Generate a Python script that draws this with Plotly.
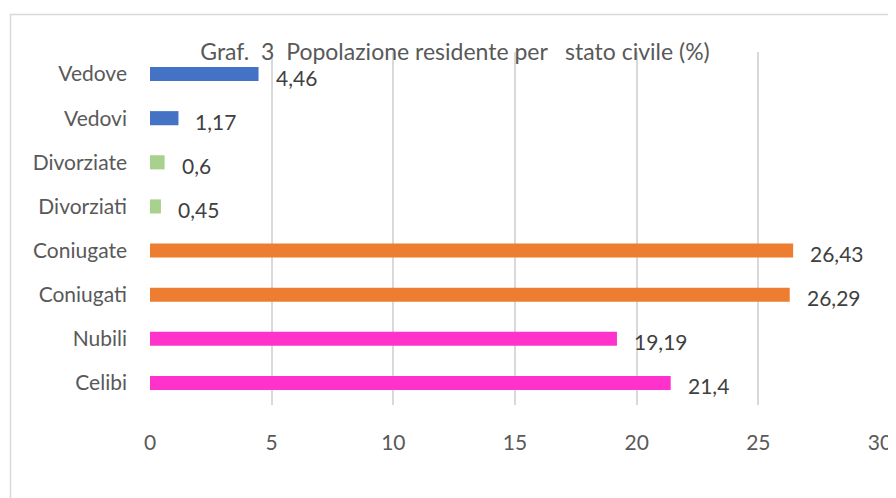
import plotly.graph_objects as go

categories = ["Celibi", "Nubili", "Coniugati", "Coniugate", "Divorziati", "Divorziate", "Vedovi", "Vedove"]
values = [21.4, 19.19, 26.29, 26.43, 0.45, 0.6, 1.17, 4.46]
colors = ["#FF33CC", "#FF33CC", "#ED7D31", "#ED7D31", "#A9D18E", "#A9D18E", "#4472C4", "#4472C4"]
x_ticks = [0, 5, 10, 15, 20, 25, 30]

FONT = "Lato"
GRAY = "#595959"
FS = 21

fig = go.Figure()
fig.add_trace(go.Bar(
    y=categories, x=values, orientation="h",
    marker=dict(color=colors, line=dict(width=0)),
    width=0.32, hoverinfo="skip",
))

for c, v in zip(categories, values):
    fig.add_annotation(
        x=v, y=c, xref="x", yref="y",
        text=f"{v:g}".replace(".", ","),
        showarrow=False, xanchor="left", yanchor="middle",
        xshift=15, yshift=-3,
        font=dict(family=FONT, size=FS, color="#404040"),
    )

# page has an 8px body margin, so the figure is laid out 8px smaller
W, H = 888, 490
L, R, T, B = 142, 16, 44, 93
pw, ph = W - L - R, H - T - B

def px(xp):
    return (xp - L) / pw

def py(yp):
    return (H - B - yp) / ph

fig.add_shape(type="rect", xref="paper", yref="paper",
              x0=px(2.5), x1=px(905), y0=py(510), y1=py(6.5),
              line=dict(color="#D9D9D9", width=1.5), fillcolor="rgba(0,0,0,0)", layer="below")

fig.update_layout(
    width=W, height=H,
    margin=dict(l=L, r=R, t=T, b=B, autoexpand=False),
    paper_bgcolor="white", plot_bgcolor="white",
    showlegend=False,
    title=dict(text="Graf.  3  Popolazione residente per   stato civile (%)",
               x=447 / W, xanchor="center", y=1 - 44 / H, yanchor="middle",
               xref="container", yref="container",
               font=dict(family=FONT, size=23, color=GRAY)),
    xaxis=dict(range=[0, 30], tickvals=x_ticks, ticktext=[str(t) for t in x_ticks],
               showgrid=True, gridcolor="#D9D9D9", gridwidth=1.5, zeroline=False,
               showline=False, ticks="", ticklabelstandoff=23,
               tickfont=dict(family=FONT, size=FS, color=GRAY)),
    yaxis=dict(type="category", categoryorder="array", categoryarray=categories,
               showgrid=False, zeroline=False, showline=False, ticks="",
               ticklabelstandoff=22,
               tickfont=dict(family=FONT, size=FS, color=GRAY)),
)

fig.write_html("out.html")
